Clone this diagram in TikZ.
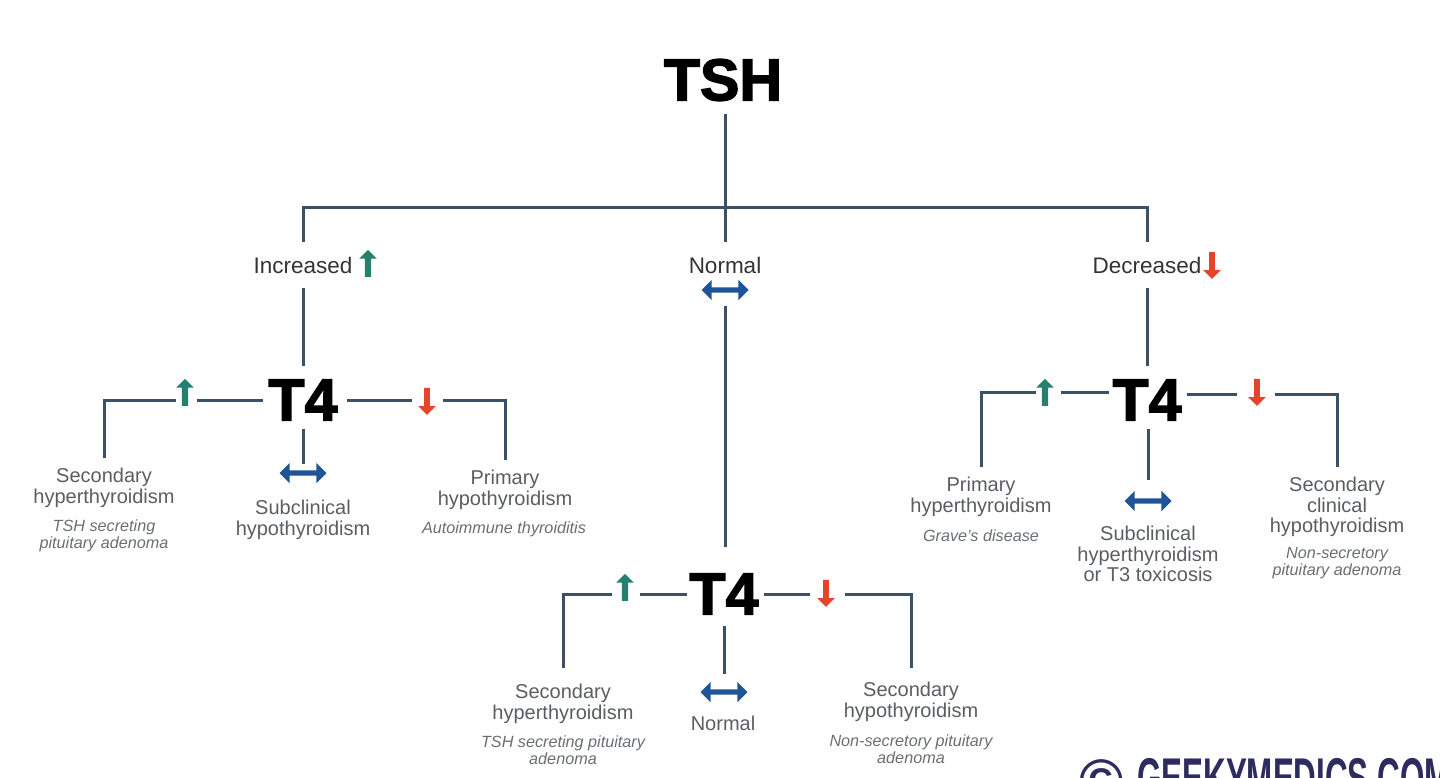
\documentclass[tikz,border=0pt]{standalone}
\usepackage{fontspec}
\setmainfont{Liberation Sans}
\newfontfamily\headfont[BoldFeatures={FakeBold=2.5}]{Liberation Sans}
\usetikzlibrary{shapes.arrows}
\definecolor{linecol}{HTML}{3C5166}
\definecolor{upcol}{HTML}{25806F}
\definecolor{downcol}{HTML}{E5442A}
\definecolor{bothcol}{HTML}{1F5596}
\definecolor{namecol}{HTML}{5A5E62}
\definecolor{causecol}{HTML}{6A6E72}
\definecolor{markcol}{HTML}{2E2C5E}
\tikzset{
    headbox/.style =  {font=\headfont\bfseries\fontsize{59}{59}\selectfont,
                    text=black,
                    inner sep=5pt},
    branch/.style =   {font=\fontsize{22.5}{24}\selectfont,
                    text=black!80,
                    align=center,
                    inner sep=3pt,
                    outer sep=12pt},
    result/.style =   {font=\fontsize{20}{20.8}\selectfont,
                    text=namecol,
                    align=center,
                    inner sep=1pt,
                    outer sep=9pt},
    cause/.style =    {font=\itshape\fontsize{16.2}{17}\selectfont,
                    text=causecol,
                    align=center,
                    inner sep=0pt},
    uparrow/.style =  {single arrow,
                    fill=upcol,
                    inner sep=3pt,
                    single arrow head extend=5.5pt,
                    minimum height=27pt,
                    shape border rotate=90},
    downarrow/.style = {single arrow,
                    fill=downcol,
                    inner sep=2.7pt,
                    single arrow head extend=6pt,
                    minimum height=27pt,
                    shape border rotate=270},
    botharrow/.style = {double arrow,
                    fill=bothcol,
                    inner sep=2.5pt,
                    double arrow head extend=7.5pt,
                    minimum height=47pt,
                    outer sep=4pt},
    link/.style =     {draw=linecol,
                    line width=3pt}
}
\begin{document}
\begin{tikzpicture}[x=1pt,y=-1pt]
    \useasboundingbox (0,0) rectangle (1440,777);
    \clip (0,0) rectangle (1440,777);

    % top of the tree
    \node[headbox]   (TSH) at (723,80)   {TSH};
    \node[branch]    (Inc) at (303,265)  {Increased};
    \node[branch]    (Nor) at (725,265)  {Normal};
    \node[branch]    (Dec) at (1147,265) {Decreased};
    \node[uparrow]   (incup)   at (368,265)  {};
    \node[botharrow] (norboth) at (725,290)  {};
    \node[downarrow] (decdown) at (1212,264) {};
    \coordinate      (bus) at (725,207);
    \draw[link] (Inc) |- (bus) -| (Dec);
    \draw[link,shorten <=8pt] (TSH.south -| Nor) -- (Nor);

    % left group
    \node[headbox]   (lT4) at (303,400) {T4};
    \node[uparrow]   (lup)   at (185,394) {};
    \node[downarrow] (ldown) at (427,400) {};
    \node[botharrow] (lboth) at (303,473) {};
    \node[result]    (lsec)  at (104,488) {Secondary\\hyperthyroidism};
    \node[cause]     (lseca) at (104,536) {TSH secreting\\pituitary adenoma};
    \node[result]    (lsub)  at (303,520) {Subclinical\\hypothyroidism};
    \node[result]    (lpri)  at (505,490) {Primary\\hypothyroidism};
    \node[cause]     (lpria) at (504,529) {Autoimmune thyroiditis};
    \draw[link,shorten >=9pt] (Inc) -- (lT4);
    \draw[link,shorten <=3pt,shorten >=2pt] (lT4) -- (lboth);
    \draw[link,shorten >=12pt] (lT4) -- (lup |- lT4);
    \draw[link,shorten <=9pt] (lup |- lT4) -| (lsec);
    \draw[link,shorten <=4pt,shorten >=15pt] (lT4) -- (ldown |- lT4);
    \draw[link,shorten <=16pt] (ldown |- lT4) -| (lpri);

    % middle group
    \node[headbox]   (mT4) at (724,594) {T4};
    \node[uparrow]   (mup)   at (625,589) {};
    \node[downarrow] (mdown) at (826,592) {};
    \node[botharrow] (mboth) at (724,692) {};
    \node[result]    (msec)  at (563,704) {Secondary\\hyperthyroidism};
    \node[cause]     (mseca) at (563,750) {TSH secreting pituitary\\adenoma};
    \node[result]    (mnor)  at (723,723) {Normal};
    \node[result]    (mhyp)  at (911,702) {Secondary\\hypothyroidism};
    \node[cause]     (mhypa) at (911,749) {Non-secretory pituitary\\adenoma};
    \draw[link,shorten <=9pt,shorten >=47pt] (norboth) -- (norboth |- mT4);
    \draw[link,shorten <=6pt,shorten >=11pt] (mT4) -- (mboth);
    \draw[link,shorten <=-3pt,shorten >=15pt] (mT4) -- (mup |- mT4);
    \draw[link,shorten <=13pt,shorten >=6pt] (mup |- mT4) -| (msec);
    \draw[link,shorten >=16pt] (mT4) -- (mdown |- mT4);
    \draw[link,shorten <=19pt,shorten >=4pt] (mdown |- mT4) -| (mhyp);

    % right group
    \node[headbox]   (rT4) at (1147,400) {T4};
    \node[uparrow]   (rup)   at (1045,394) {};
    \node[downarrow] (rdown) at (1257,391) {};
    \node[botharrow] (rboth) at (1148,501) {};
    \coordinate      (rjoinl) at (1045,392);
    \coordinate      (rjoinr) at (1257,394);
    \node[result]    (rpri)  at (981,497)  {Primary\\hyperthyroidism};
    \node[cause]     (rpria) at (981,536)  {Grave's disease};
    \node[result]    (rsub)  at (1148,554) {Subclinical\\hyperthyroidism\\or T3 toxicosis};
    \node[result]    (rsec)  at (1337,507) {Secondary\\clinical\\hypothyroidism};
    \node[cause]     (rseca) at (1337,563) {Non-secretory\\pituitary adenoma};
    \draw[link,shorten >=9pt] (Dec) -- (rT4);
    \draw[link,shorten <=3pt,shorten >=14pt] (rboth |- rT4.south) -- (rboth);
    \draw[link,shorten <=-2pt,shorten >=16pt] (rT4.west |- rjoinl) -- (rjoinl);
    \draw[link,shorten <=9pt] (rjoinl) -| (rpri);
    \draw[link,shorten >=20pt] (rT4.east |- rjoinr) -- (rjoinr);
    \draw[link,shorten <=18pt] (rjoinr) -| (rsec);

    % mark cut off by the lower edge
    \node[font=\bfseries\fontsize{60}{60}\selectfont,text=markcol,inner sep=0pt] (copy) at (1102,781) {©};
    \node[font=\bfseries\fontsize{56}{56}\selectfont,text=markcol,inner sep=0pt,anchor=west,xscale=.56,transform shape] (site) at (1137,778) {GEEKYMEDICS.COM};
\end{tikzpicture}
\end{document}
